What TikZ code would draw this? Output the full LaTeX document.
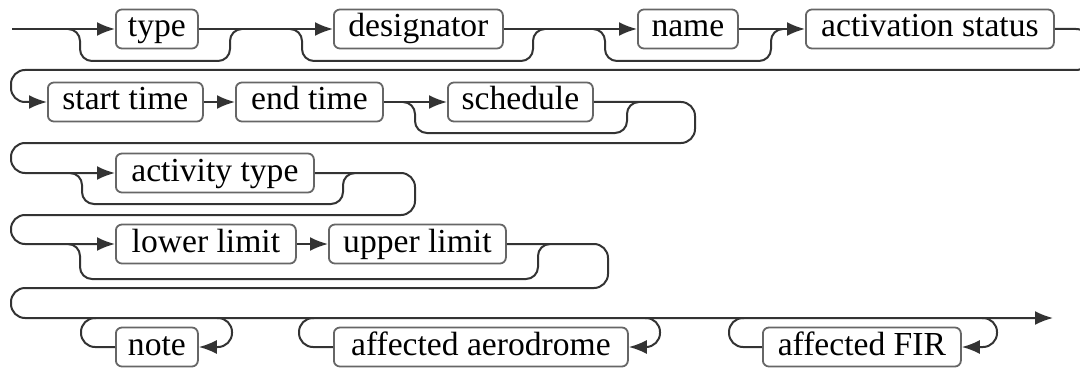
\documentclass[tikz,border=0pt]{standalone}
\usepackage{fontspec}
\setmainfont{Liberation Serif}
\usetikzlibrary{arrows.meta}
\begin{document}
\begin{tikzpicture}[x=0.5pt,y=-0.5pt,
  line/.style={draw=black!80, line width=1pt},
  rc/.style={line, rounded corners=6pt},
  loopline/.style={line, rounded corners=7pt},
  arr/.style={arrows={-Latex[length=9pt,width=7pt]}},
  box/.style={draw=black!60, line width=0.9pt, rounded corners=3pt, fill=white,
    anchor=west, minimum height=19.5pt, inner sep=0pt,
    font=\fontsize{16.8}{18}\selectfont, text height=11.5pt, text depth=3.5pt}]
\useasboundingbox (0,0) rectangle (1080,369);
\clip (0,0) rectangle (1080,369);
% ---------- nodes ----------
\node[box, minimum width=41pt]   (type)  at (115,29)  {type};
\node[box, minimum width=84.5pt] (desig) at (333,29)  {designator};
\node[box, minimum width=50pt]   (name)  at (637,29)  {name};
\node[box, minimum width=124pt]  (act)   at (805,29)  {activation status};
\node[box, minimum width=77.5pt] (start) at (47,102)  {start time};
\node[box, minimum width=73.5pt] (endt)  at (235,102) {end time};
\node[box, minimum width=72.5pt] (sched) at (447,102) {schedule};
\node[box, minimum width=99pt]   (atype) at (115,173) {activity type};
\node[box, minimum width=90pt]   (lower) at (115,244) {lower limit};
\node[box, minimum width=88.5pt] (upper) at (328,244) {upper limit};
\node[box, minimum width=41pt]   (note)  at (115,347) {note};
\node[box, minimum width=147pt]  (aero)  at (333,347) {affected aerodrome};
\node[box, minimum width=99pt]   (fir)   at (762,347) {affected FIR};
% ---------- coordinates ----------
\coordinate (s0)  at (12,29);
\coordinate (sp1) at (68,29);   \coordinate (mg1) at (242,29);
\coordinate (sp2) at (290,29);  \coordinate (mg2) at (545,29);
\coordinate (sp3) at (593,29);  \coordinate (mg3) at (783,29);
\coordinate (sp4) at (403,102); \coordinate (mg4) at (639,102);
\coordinate (sp5) at (70,173);  \coordinate (mg5) at (355,173);
\coordinate (sp6) at (68,244);  \coordinate (mg6) at (550,244);
\coordinate (fin) at (1053,318);
\coordinate (nr) at (217,318);  \coordinate (nl) at (96,318);
\coordinate (ar) at (645,318);  \coordinate (al) at (314,318);
\coordinate (fr) at (982,318);  \coordinate (fl) at (744,318);
% ---------- row 1 ----------
\draw[line,arr] (s0) -- (type);
\draw[line,arr] (type) -- (desig);
\draw[line,arr] (desig) -- (name);
\draw[line,arr] (name) -- (act);
\draw[rc] (sp1) -- ++(12,0) -- ++(0,32) -| ([xshift=-6pt]mg1) -- (mg1);
\draw[rc] (sp2) -- ++(12,0) -- ++(0,32) -| ([xshift=-6pt]mg2) -- (mg2);
\draw[rc] (sp3) -- ++(12,0) -- ++(0,32) -| ([xshift=-6pt]mg3) -- (mg3);
\draw[loopline,arr] (act.east) -- (1090,29) -- (1090,70) -- (11,70) -- (11,102) -- (start.west);
% ---------- row 2 ----------
\draw[line,arr] (start) -- (endt);
\draw[line,arr] (endt) -- (sched);
\draw[rc] (sp4) -- ++(12,0) -- ++(0,31) -| ([xshift=-6pt]mg4) -- (mg4);
\draw[loopline,arr] (sched.east) -- (695,102) -- (695,143) -- (11,143) -- (11,173) -- (atype.west);
% ---------- row 3 ----------
\draw[rc] (sp5) -- ++(12,0) -- ++(0,31) -| ([xshift=-6pt]mg5) -- (mg5);
\draw[loopline,arr] (atype.east) -- (415,173) -- (415,215) -- (11,215) -- (11,244) -- (lower.west);
% ---------- row 4 ----------
\draw[line,arr] (lower) -- (upper);
\draw[rc] (sp6) -- ++(12,0) -- ++(0,35) -| ([xshift=-6pt]mg6) -- (mg6);
\draw[loopline,arr] (upper.east) -- (608,244) -- (608,288) -- (11,288) -- (11,318) -- (fin);
% ---------- row 5 loops ----------
\draw[loopline,arr] (nr) -- (232,318) -- (232,347) -- (note.east);
\draw[loopline] (note.west) -- (81,347) -- (81,318) -- (nl);
\draw[loopline,arr] (ar) -- (660,318) -- (660,347) -- (aero.east);
\draw[loopline] (aero.west) -- (299,347) -- (299,318) -- (al);
\draw[loopline,arr] (fr) -- (997,318) -- (997,347) -- (fir.east);
\draw[loopline] (fir.west) -- (729,347) -- (729,318) -- (fl);
\end{tikzpicture}
\end{document}
